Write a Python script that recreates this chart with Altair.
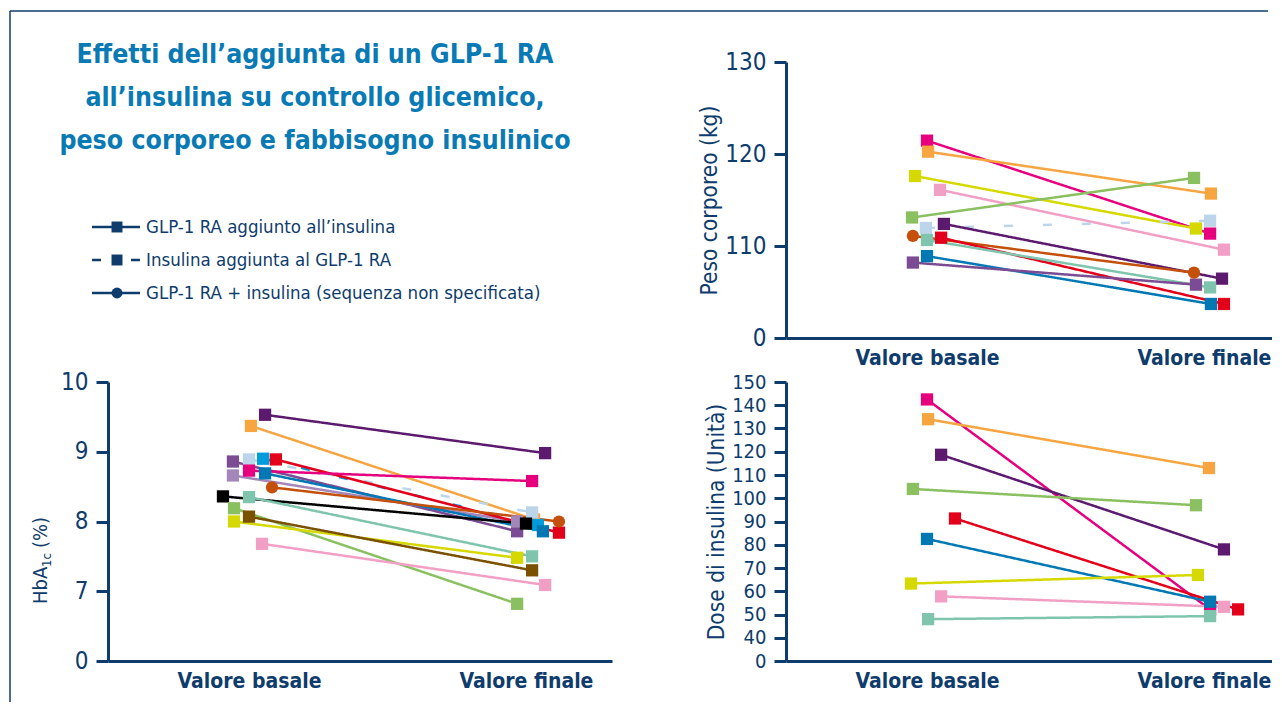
import altair as alt
import pandas as pd

FONT = "'Liberation Sans Narrow', 'DejaVu Sans Condensed', 'Roboto Condensed', 'Arial Narrow', sans-serif"
NAVY = "#0E3C6C"
TITLE_BLUE = "#0A7AB5"

# ---------------- data ----------------
categories = ["Valore basale", "Valore finale"]

title_lines = [
    "Effetti dell\u2019aggiunta di un GLP-1 RA",
    "all\u2019insulina su controllo glicemico,",
    "peso corporeo e fabbisogno insulinico",
]
legend_labels = [
    "GLP-1 RA aggiunto all\u2019insulina",
    "Insulina aggiunta al GLP-1 RA",
    "GLP-1 RA + insulina (sequenza non specificata)",
]

series_names = ["viola_scuro", "arancio", "viola", "lilla", "azzurro_chiaro", "ciano",
                "rosso", "magenta", "blu", "ruggine", "nero", "verde_acqua", "verde",
                "giallo", "marrone", "rosa"]
series_colors = ["#5C1A6F", "#F7A541", "#7B4B94", "#A387BA", "#BDD5EA", "#009CDC",
                 "#E2001A", "#E6007E", "#0078B4", "#C4500B", "#000000", "#7FC5AE", "#8AC060",
                 "#D6D900", "#7A5100", "#F29FC5"]
series_types = ["solid", "solid", "solid", "solid", "dashed", "dashed",
                "solid", "solid", "solid", "circle", "solid", "solid", "solid",
                "solid", "solid", "solid"]

# HbA1c (%)
hba_series = ["viola_scuro", "arancio", "viola", "lilla", "azzurro_chiaro", "ciano", "rosso",
              "magenta", "blu", "ruggine", "nero", "verde_acqua", "verde", "giallo", "marrone", "rosa"]
hba_basale = [9.53, 9.37, 8.86, 8.66, 8.89, 8.90, 8.89, 8.73, 8.69, 8.49, 8.36, 8.35, 8.19, 8.00, 8.07, 7.68]
hba_finale = [8.98, 8.03, 7.86, 8.00, 8.13, 7.95, 7.84, 8.58, 7.86, 8.00, 7.97, 7.50, 6.82, 7.48, 7.30, 7.09]
hba_jit_b = [0.058, 0.007, -0.058, -0.058, 0.0, 0.051, 0.097, 0.0, 0.058, 0.083, -0.094, 0.0, -0.054, -0.054, 0.0, 0.047]
hba_jit_f = [0.069, 0.029, -0.032, -0.032, 0.022, 0.043, 0.119, 0.022, 0.061, 0.119, 0.0, 0.022, -0.032, -0.032, 0.022, 0.069]

# Peso corporeo (kg)
w_series = ["magenta", "arancio", "giallo", "rosa", "verde", "azzurro_chiaro", "viola_scuro",
            "ruggine", "rosso", "verde_acqua", "blu", "viola"]
w_basale = [121.45, 120.25, 117.6, 116.1, 113.1, 111.96, 112.4, 111.1, 110.9, 110.65, 108.9, 108.2]
w_finale = [111.35, 115.7, 111.9, 109.6, 117.4, 112.75, 106.45, 107.1, 103.7, 105.5, 103.7, 105.8]
w_jit_b = [0.0, 0.004, -0.043, 0.047, -0.054, -0.004, 0.061, -0.051, 0.051, 0.0, 0.0, -0.051]
w_jit_f = [0.022, 0.025, -0.029, 0.072, -0.036, 0.022, 0.065, -0.036, 0.072, 0.022, 0.025, -0.029]

# Dose di insulina (Unità)
i_series = ["magenta", "arancio", "viola_scuro", "verde", "rosso", "blu", "giallo", "rosa", "verde_acqua"]
i_basale = [142.5, 134.0, 118.7, 104.0, 91.3, 82.5, 63.3, 57.8, 48.0]
i_finale = [52.2, 113.0, 78.0, 97.0, 52.2, 55.5, 67.0, 53.3, 49.3]
i_jit_b = [0.0, 0.004, 0.051, -0.051, 0.101, 0.0, -0.058, 0.051, 0.004]
i_jit_f = [0.022, 0.018, 0.072, -0.029, 0.123, 0.022, -0.022, 0.072, 0.022]

# ---------------- helpers ----------------
STEP_PX = 277.0   # distance between the two categories
BASE_PX = 141.0   # first category from the y axis

type_of = dict(zip(series_names, series_types))
color_scale = alt.Scale(domain=series_names, range=series_colors)
dash_scale = alt.Scale(domain=["solid", "dashed", "circle"], range=[[1, 0], [9, 6], [1, 0]])


def make_df(series, basale, finale, jb, jf):
    rows = []
    for i, s in enumerate(series):
        rows.append({"serie": s, "fase": 1 + jb[i], "valore": basale[i], "tipo": type_of[s], "k": i})
        rows.append({"serie": s, "fase": 2 + jf[i], "valore": finale[i], "tipo": type_of[s], "k": i})
    return pd.DataFrame(rows)


def panel(df, width, height, ydomain, yvalues, ytitle=None, label_size=24):
    x_dom = [1 - BASE_PX / STEP_PX, 1 + (width - BASE_PX) / STEP_PX]
    label_expr = f"datum.value == 1 ? '{categories[0]}' : '{categories[1]}'"
    x = alt.X("fase:Q", scale=alt.Scale(domain=x_dom, nice=False, zero=False),
              axis=alt.Axis(values=[1, 2], labelExpr=label_expr, ticks=False, grid=False,
                            title=None, domainColor=NAVY, domainWidth=3, labelFont=FONT,
                            labelFontSize=21, labelFontWeight="bold", labelColor=NAVY,
                            labelPadding=9, labelFlush=False, labelOverlap=False))
    axis_kw = dict(values=yvalues,
                   labelExpr=f"datum.value == {ydomain[0]} ? '0' : datum.label",
                   grid=False, domainColor=NAVY, domainWidth=3, tickColor=NAVY,
                   tickWidth=3, tickSize=12, labelFont=FONT, labelFontSize=label_size,
                   labelColor=NAVY, labelPadding=8, labelOverlap=False, labelBound=False)
    if ytitle:
        axis_kw.update(title=ytitle, titleFont=FONT, titleFontSize=22.5, titleColor=NAVY,
                       titleFontWeight="normal", titlePadding=3)
    else:
        axis_kw.update(title=None)
    y = alt.Y("valore:Q", scale=alt.Scale(domain=ydomain, nice=False, zero=False),
              axis=alt.Axis(**axis_kw))
    base = alt.Chart(df)
    lines = base.mark_line(strokeWidth=2.5).encode(
        x=x, y=y,
        color=alt.Color("serie:N", scale=color_scale, legend=None),
        strokeDash=alt.StrokeDash("tipo:N", scale=dash_scale, legend=None),
        detail="serie:N")
    squares = base.transform_filter("datum.tipo != 'circle'").mark_square(size=150, opacity=1).encode(
        x=x, y=y, color=alt.Color("serie:N", scale=color_scale, legend=None))
    circles = base.transform_filter("datum.tipo == 'circle'").mark_circle(size=150, opacity=1).encode(
        x=x, y=y, color=alt.Color("serie:N", scale=color_scale, legend=None))
    return alt.layer(lines, squares, circles).properties(width=width, height=height)


# ---------------- panels ----------------
W_LEFT, W_RIGHT = 504, 486
H_TOP, H_BOT = 276, 279

hba = panel(make_df(hba_series, hba_basale, hba_finale, hba_jit_b, hba_jit_f),
            W_LEFT, H_BOT, [6, 10], [6, 7, 8, 9, 10])
txt = dict(font=FONT, color=NAVY, angle=270, baseline="alphabetic", align="left")
hb1 = alt.Chart(pd.DataFrame({"t": ["HbA"]})).mark_text(fontSize=20, **txt).encode(
    text="t:N", x=alt.value(-61), y=alt.value(222))
hb2 = alt.Chart(pd.DataFrame({"t": ["1c"]})).mark_text(fontSize=13, **txt).encode(
    text="t:N", x=alt.value(-57), y=alt.value(185))
hb3 = alt.Chart(pd.DataFrame({"t": ["(%)"]})).mark_text(fontSize=20, **txt).encode(
    text="t:N", x=alt.value(-61), y=alt.value(166))
hba = alt.layer(hba, hb1, hb2, hb3)

weight = panel(make_df(w_series, w_basale, w_finale, w_jit_b, w_jit_f),
               W_RIGHT, H_TOP, [100, 130], [100, 110, 120, 130], "Peso corporeo (kg)")
insulin = panel(make_df(i_series, i_basale, i_finale, i_jit_b, i_jit_f),
                W_RIGHT, H_BOT, [30, 150], list(range(30, 151, 10)), "Dose di insulina (Unit\u00e0)",
                label_size=20)

# ---------------- title + legend panel ----------------
title = alt.Chart(pd.DataFrame({"t": ["\n".join(title_lines)]})).mark_text(
    align="center", baseline="top", font=FONT, fontSize=26.5, fontWeight="bold",
    color=TITLE_BLUE, lineHeight=43, lineBreak="\n").encode(
    text="t:N", x=alt.value(207), y=alt.value(-20))

leg_df = pd.DataFrame({"label": legend_labels, "kind": ["solid", "dashed", "circle"]})
leg_y = alt.Y("label:N", sort=legend_labels, axis=None,
              scale=alt.Scale(type="point", range=[165, 231], padding=0))
leg_lines = alt.Chart(leg_df).mark_rule(color=NAVY, strokeWidth=2.5).encode(
    x=alt.value(-16), x2=alt.value(32), y=leg_y,
    strokeDash=alt.StrokeDash("kind:N", legend=None,
                              scale=alt.Scale(domain=["solid", "dashed", "circle"],
                                              range=[[1, 0], [9, 30], [1, 0]])))
leg_syms = alt.Chart(leg_df).mark_point(filled=True, opacity=1, color=NAVY, size=120).encode(
    x=alt.value(9), y=leg_y,
    shape=alt.Shape("kind:N", legend=None,
                    scale=alt.Scale(domain=["solid", "dashed", "circle"],
                                    range=["square", "square", "circle"])))
leg_text = alt.Chart(leg_df).mark_text(align="left", baseline="middle", font=FONT,
                                       fontSize=18.5, color=NAVY).encode(
    x=alt.value(38), y=leg_y, text="label:N")

frame_top = alt.Chart(pd.DataFrame({"a": [0]})).mark_rule(color=NAVY, strokeWidth=1.5).encode(
    x=alt.value(-98), x2=alt.value(1160), y=alt.value(-51))
frame_left = alt.Chart(pd.DataFrame({"a": [0]})).mark_rule(color=NAVY, strokeWidth=1.5).encode(
    x=alt.value(-98), y=alt.value(-51), y2=alt.value(640))

head = alt.layer(frame_top, frame_left, title, leg_lines, leg_syms, leg_text).properties(
    width=W_LEFT, height=H_TOP)

chart = alt.concat(head, weight, hba, insulin, columns=2,
                   spacing={"row": 44, "column": 174}, bounds="flush").properties(
    padding={"left": 1, "top": 2, "right": 0, "bottom": 0}
).configure(background="white").configure_view(stroke=None)

chart.save("out.html", embed_options={"renderer": "svg", "actions": False})
